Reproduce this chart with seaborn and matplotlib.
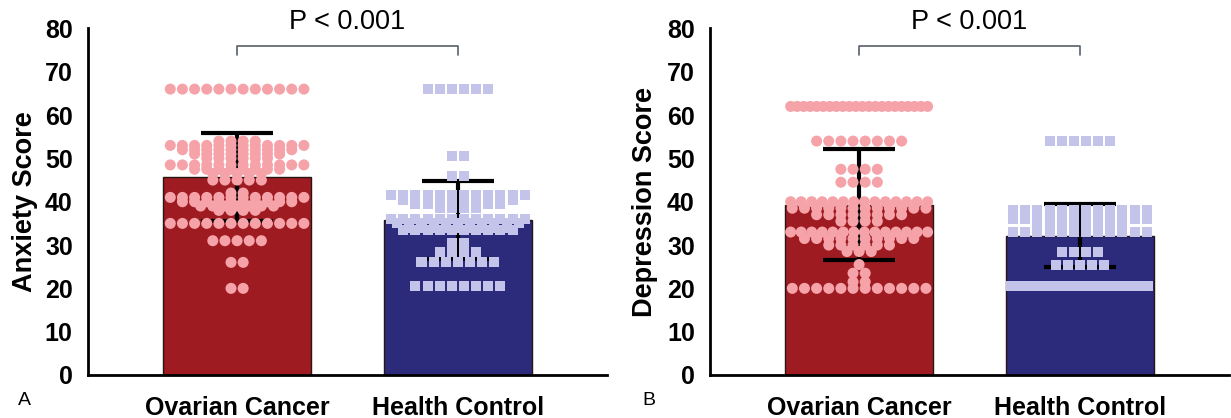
import numpy as np
import matplotlib
matplotlib.use("Agg")
import matplotlib.pyplot as plt
from matplotlib.ticker import MultipleLocator
import seaborn as sns

groups = ["Ovarian Cancer", "Health Control"]

# bar height = mean, error bar = SD
anxiety_mean = [45.7, 35.8]
anxiety_sd = [10.1, 9.0]
depression_mean = [39.3, 32.2]
depression_sd = [12.8, 7.3]

# individual scores, one row per score value: score and how many subjects
anx_oc_scores = [66, 54, 53, 52, 51, 50, 48.5, 47.5, 46.5, 45, 42, 41, 40, 39, 38, 35, 31, 26, 20]
anx_oc_counts = [12, 4, 12, 10, 8, 6, 12, 8, 5, 5, 2, 12, 10, 7, 4, 12, 5, 2, 2]
anx_hc_scores = [66, 50.5, 46, 41.5, 40.5, 39.5, 38.5, 36, 35, 34, 33.5, 30.5, 28.5, 26, 20.5]
anx_hc_counts = [6, 2, 2, 12, 10, 8, 4, 12, 11, 9, 10, 2, 4, 7, 8]

dep_oc_scores = [62, 54, 47.5, 44.5, 40, 38.5, 37, 35.5, 33, 31.5, 30, 28.5, 25.5, 23.5, 21.5, 20]
dep_oc_counts = [22, 8, 4, 4, 14, 12, 8, 4, 14, 10, 6, 3, 1, 2, 2, 12]
dep_hc_scores = [54, 38, 37, 36, 35, 34, 33, 28.5, 25.5, 20.5]
dep_hc_counts = [6, 12, 10, 12, 8, 6, 12, 4, 5, 20]

bar_colors = ["#9d1b21", "#2b2a7b"]
dot_colors = ["#f5a3a9", "#c4c4ea"]


def row_positions(center, scores, counts, step=0.055, max_half=0.31):
    # spread the subjects of each score row side by side, GraphPad style
    xs, ys = [], []
    for s, n in zip(scores, counts):
        half = min((n - 1) * step / 2, max_half)
        xs.extend(center + np.linspace(-half, half, n))
        ys.extend([s] * n)
    return np.array(xs), np.array(ys)


def draw_panel(ax, means, sds, oc_scores, oc_counts, hc_scores, hc_counts, ylabel, label_x):
    sns.barplot(x=groups, y=means, hue=groups, palette=bar_colors, width=0.67,
                saturation=1, edgecolor="#2a1515", linewidth=1, errorbar=None,
                legend=False, ax=ax, zorder=1)
    ax.errorbar([0, 1], means, yerr=sds, fmt="none", ecolor="black",
                elinewidth=3, capsize=26, capthick=3, zorder=2)

    x, y = row_positions(0, oc_scores, oc_counts)
    sns.scatterplot(x=x, y=y, marker="o", s=63, color=dot_colors[0],
                    edgecolor="none", linewidth=0, ax=ax, zorder=3)
    x, y = row_positions(1, hc_scores, hc_counts)
    sns.scatterplot(x=x, y=y, marker="s", s=52, color=dot_colors[1],
                    edgecolor="none", linewidth=0, ax=ax, zorder=3)

    # significance bracket
    ax.plot([0, 0, 1, 1], [73.9, 76, 76, 73.9], color="#58606a", lw=1.2,
            clip_on=False)
    ax.text(0.5, 81.5, "P < 0.001", ha="center", va="center", fontsize=19.5,
            color="black", clip_on=False)

    ax.set_xlim(-0.675, 1.675)
    ax.set_ylim(0, 80)
    ax.yaxis.set_major_locator(MultipleLocator(10))
    ax.yaxis.set_minor_locator(MultipleLocator(5))
    ax.set_xticks([0, 1])
    ax.set_xticklabels(groups)
    ax.tick_params(axis="y", which="major", length=8, width=2, labelsize=18, pad=3,
                   color="black", labelcolor="black")
    ax.tick_params(axis="y", which="minor", length=4, width=2, color="black")
    ax.tick_params(axis="x", length=9, width=2, labelsize=18, pad=6,
                   color="black", labelcolor="black")
    for lab in ax.get_xticklabels() + ax.get_yticklabels():
        lab.set_fontweight("bold")

    for side in ["top", "right"]:
        ax.spines[side].set_visible(False)
    for side in ["left", "bottom"]:
        ax.spines[side].set_linewidth(2)
        ax.spines[side].set_color("black")

    ax.set_xlabel("")
    ax.set_ylabel(ylabel, fontsize=19.5, fontweight="bold", color="black")
    ax.yaxis.set_label_coords(label_x, 0.5)


sns.set_style("white")
plt.rcParams["font.family"] = ["Liberation Sans", "DejaVu Sans"]
plt.rcParams["text.color"] = "black"

fig = plt.figure(figsize=(12.31, 4.18), dpi=100)
ax1 = fig.add_axes([0.0715, 0.1029, 0.4216, 0.829])
ax2 = fig.add_axes([0.5768, 0.1029, 0.4216, 0.829])

draw_panel(ax1, anxiety_mean, anxiety_sd, anx_oc_scores, anx_oc_counts,
           anx_hc_scores, anx_hc_counts, "Anxiety Score", -0.097)
draw_panel(ax2, depression_mean, depression_sd, dep_oc_scores, dep_oc_counts,
           dep_hc_scores, dep_hc_counts, "Depression Score", -0.100)

fig.text(0.0146, 0.031, "A", fontsize=14, color="black")
fig.text(0.522, 0.031, "B", fontsize=14, color="black")

fig.savefig("out.png", dpi=100, facecolor="white")
